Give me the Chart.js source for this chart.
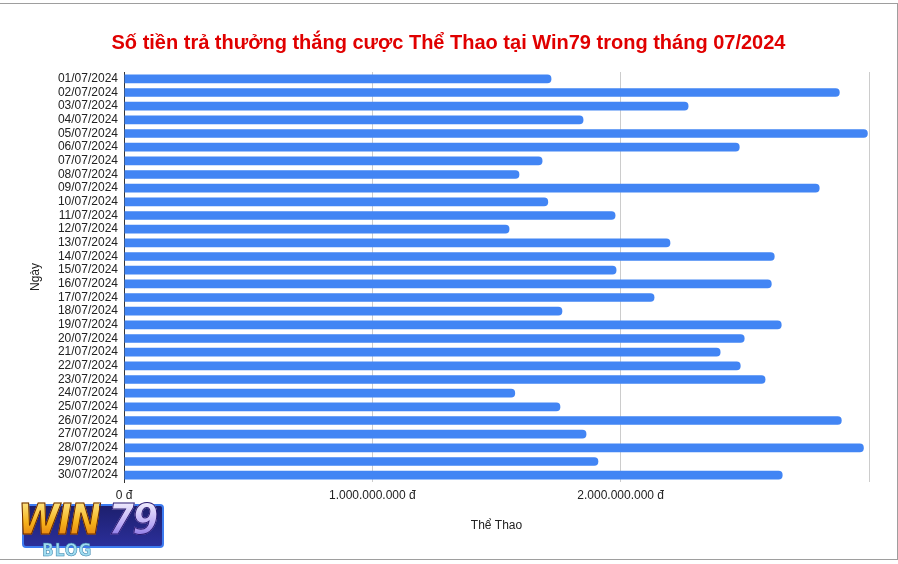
<!DOCTYPE html>
<html>
<head>
<meta charset="utf-8">
<script src="https://cdn.jsdelivr.net/npm/chart.js@4.4.1/dist/chart.umd.min.js"></script>
<style>
  html, body { margin: 0; padding: 0; background: #fff; }
  #wrap { position: relative; width: 898px; height: 564px; overflow: hidden; }
  #c { position: absolute; left: 0; top: 0; }
  #frame { position: absolute; left: -1px; top: 3px; width: 899px; height: 557px; box-sizing: border-box; border: 1px solid #9e9e9e; pointer-events: none; }
  #logo { position: absolute; left: 14px; top: 490px; width: 152px; height: 70px; }
  #logo .box { position: absolute; left: 8px; top: 14px; width: 138px; height: 40px; background: linear-gradient(#1d1f6e, #2b2f9a); border: 2px solid #3d7bf0; border-radius: 4px; }
  #logo .win { position: absolute; left: 4px; top: 6px; font: italic 900 42px "DejaVu Sans Condensed", "DejaVu Sans", sans-serif; letter-spacing: -2px; line-height: 48px;
     background: linear-gradient(#fff3a0, #f6b21b 55%, #e06a0a); -webkit-background-clip: text; background-clip: text; color: transparent; -webkit-text-stroke: 1px #6a2a00; }
  #logo .nine { position: absolute; left: 94px; top: 6px; font: italic 900 42px "DejaVu Sans Condensed", "DejaVu Sans", sans-serif; letter-spacing: -2px; line-height: 48px;
     background: linear-gradient(#ffffff, #b9a8f5 60%, #6a52d8); -webkit-background-clip: text; background-clip: text; color: transparent; -webkit-text-stroke: 1px #2a1a70; }
  #logo .blog { position: absolute; left: 28px; top: 50px; font: bold 17px "DejaVu Sans Condensed", "DejaVu Sans", sans-serif; color: #9fdcf0; letter-spacing: 1px; -webkit-text-stroke: 0.5px #3a7fa8; }
</style>
</head>
<body>
<div id="wrap">
  <canvas id="c" width="898" height="564"></canvas>
  <div id="frame"></div>
  <div id="logo"><div class="box"></div><span class="win">WIN</span><span class="nine">79</span><span class="blog">BLOG</span></div>
</div>
<script>
const chartTitle = 'Số tiền trả thưởng thắng cược Thể Thao tại Win79 trong tháng 07/2024';
const xAxisTitle = 'Thể Thao';
const yAxisTitle = 'Ngày';
const days = [
  '01/07/2024','02/07/2024','03/07/2024','04/07/2024','05/07/2024','06/07/2024',
  '07/07/2024','08/07/2024','09/07/2024','10/07/2024','11/07/2024','12/07/2024',
  '13/07/2024','14/07/2024','15/07/2024','16/07/2024','17/07/2024','18/07/2024',
  '19/07/2024','20/07/2024','21/07/2024','22/07/2024','23/07/2024','24/07/2024',
  '25/07/2024','26/07/2024','27/07/2024','28/07/2024','29/07/2024','30/07/2024'
];
const payouts = [
  1721000000, 2882000000, 2273000000, 1850000000, 2995000000, 2479000000,
  1685000000, 1592000000, 2801000000, 1708000000, 1979000000, 1552000000,
  2200000000, 2620000000, 1983000000, 2608000000, 2136000000, 1765000000,
  2648000000, 2499000000, 2402000000, 2483000000, 2583000000, 1575000000,
  1757000000, 2890000000, 1862000000, 2979000000, 1910000000, 2652000000
];
const xTickLabels = ['0 đ', '1.000.000.000 đ', '2.000.000.000 đ', ''];
const xMax = 3000000000;
const xStep = 1000000000;

const bgPlugin = {
  id: 'bg',
  beforeDraw(chart) {
    const ctx = chart.ctx;
    ctx.save();
    ctx.fillStyle = '#ffffff';
    ctx.fillRect(0, 0, chart.width, chart.height);
    ctx.restore();
  }
};

const FONT = '"Liberation Sans", Arial, sans-serif';

new Chart(document.getElementById('c'), {
  type: 'bar',
  data: {
    labels: days,
    datasets: [{
      label: xAxisTitle,
      data: payouts,
      backgroundColor: '#4285f4',
      borderRadius: 4,
      barPercentage: 0.64,
      categoryPercentage: 1.0
    }]
  },
  plugins: [bgPlugin],
  options: {
    indexAxis: 'y',
    responsive: false,
    animation: false,
    devicePixelRatio: 1,
    layout: { padding: { top: 0, right: 29, bottom: 0, left: 28 } },
    plugins: {
      legend: { display: false },
      tooltip: { enabled: false },
      title: {
        display: true,
        text: chartTitle,
        color: '#e00000',
        font: { family: FONT, size: 20, weight: 'bold' },
        padding: { top: 31, bottom: 17 }
      }
    },
    scales: {
      x: {
        type: 'linear',
        min: 0,
        max: xMax,
        afterFit(scale) { scale.height = 82; },
        border: { display: false },
        grid: { color: '#cccccc', drawTicks: false, lineWidth: 1 },
        ticks: {
          stepSize: xStep,
          padding: 6,
          color: '#222222',
          font: { family: FONT, size: 12 },
          maxRotation: 0,
          callback: (v, i) => xTickLabels[i] ?? ''
        },
        title: {
          display: true,
          text: xAxisTitle,
          color: '#222222',
          font: { family: FONT, size: 12 },
          padding: { top: 0, bottom: 31 }
        }
      },
      y: {
        afterFit(scale) { scale.width = 96; },
        border: { display: true, color: '#333333', width: 1 },
        grid: { display: false, drawTicks: false },
        ticks: {
          padding: 6,
          color: '#222222',
          autoSkip: false,
          font: { family: FONT, size: 12 }
        },
        title: {
          display: true,
          text: yAxisTitle,
          color: '#222222',
          font: { family: FONT, size: 12 },
          padding: { top: 0, bottom: 0 }
        }
      }
    }
  }
});
</script>
</body>
</html>
